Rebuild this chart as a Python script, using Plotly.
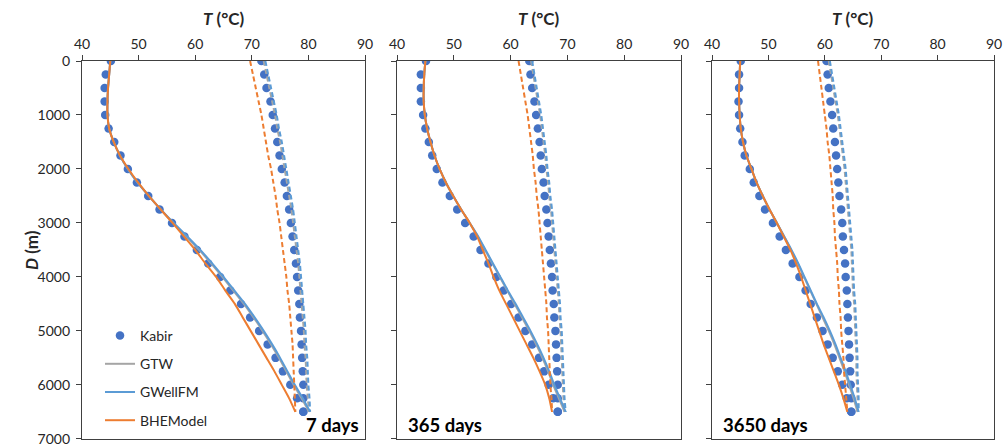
import plotly.graph_objects as go

# Depth along the borehole (m)
depth_m = [0, 250, 500, 750, 1000, 1250, 1500, 1750, 2000, 2250, 2500, 2750, 3000, 3250,
           3500, 3750, 4000, 4250, 4500, 4750, 5000, 5250, 5500, 5750, 6000, 6250, 6500]

# ---- 7 days : fluid temperature (°C), inlet (down-going) and outlet (up-going) ----
kabir_in_7 = [45.1, 44.2, 44.0, 44.0, 44.1, 44.7, 45.7, 46.8, 48.1, 49.7, 51.7, 53.7, 55.9, 58.1,
              60.3, 62.3, 64.4, 66.2, 68.1, 69.7, 71.3, 72.8, 74.2, 75.5, 76.8, 78.0, 79.1]
kabir_out_7 = [71.7, 72.2, 72.6, 73.3, 73.7, 74.1, 74.5, 74.9, 75.3, 75.8, 76.2, 76.6, 76.9, 77.2,
               77.5, 77.8, 78.0, 78.2, 78.4, 78.5, 78.7, 78.8, 78.9, 79.0, 79.1, 79.1, 79.1]
gtw_in_7 = [45.0, 44.8, 44.6, 44.5, 44.5, 44.8, 45.6, 46.7, 48.1, 49.8, 51.8, 53.9, 56.1, 58.4,
            60.7, 62.8, 64.8, 66.7, 68.6, 70.3, 71.9, 73.4, 74.8, 76.1, 77.4, 78.8, 80.1]
gtw_out_7 = [72.1, 72.6, 73.1, 73.6, 74.1, 74.5, 75.0, 75.4, 75.8, 76.2, 76.6, 77.0, 77.3, 77.6,
             77.9, 78.2, 78.4, 78.6, 78.8, 79.0, 79.2, 79.3, 79.5, 79.6, 79.7, 79.9, 80.1]
gwell_in_7 = [45.0, 44.8, 44.6, 44.5, 44.5, 44.8, 45.6, 46.7, 48.1, 49.8, 51.8, 53.9, 56.2, 58.6,
              60.9, 63.0, 65.0, 66.9, 68.8, 70.5, 72.1, 73.6, 75.0, 76.3, 77.6, 79.0, 80.3]
gwell_out_7 = [72.4, 72.9, 73.4, 73.9, 74.4, 74.8, 75.3, 75.7, 76.1, 76.5, 76.9, 77.3, 77.6, 77.9,
               78.2, 78.5, 78.7, 78.9, 79.1, 79.3, 79.5, 79.6, 79.8, 79.9, 80.0, 80.2, 80.3]
bhe_in_7 = [45.0, 44.8, 44.6, 44.5, 44.5, 44.8, 45.6, 46.7, 48.2, 49.9, 51.8, 53.9, 56.0, 58.0,
            60.0, 61.8, 63.7, 65.3, 67.0, 68.4, 69.8, 71.2, 72.6, 74.0, 75.3, 76.6, 77.7]
bhe_out_7 = [69.7, 70.2, 70.7, 71.2, 71.7, 72.1, 72.5, 72.9, 73.4, 73.8, 74.2, 74.5, 74.9, 75.2,
             75.5, 75.8, 76.1, 76.3, 76.6, 76.8, 77.0, 77.2, 77.3, 77.4, 77.5, 77.6, 77.7]

# ---- 365 days ----
kabir_in_365 = [45.1, 44.2, 44.2, 44.2, 44.6, 45.0, 45.6, 46.2, 47.0, 48.0, 49.3, 50.6, 52.0, 53.5,
                54.7, 56.1, 57.5, 58.8, 60.1, 61.4, 62.6, 63.8, 65.0, 65.9, 66.7, 67.5, 68.3]
kabir_out_365 = [63.3, 63.5, 63.8, 64.2, 64.5, 64.8, 65.1, 65.3, 65.5, 65.8, 66.0, 66.3, 66.5, 66.7,
                 66.9, 67.1, 67.3, 67.4, 67.6, 67.7, 67.9, 68.0, 68.1, 68.2, 68.3, 68.3, 68.3]
gtw_in_365 = [45.0, 44.8, 44.7, 44.7, 44.9, 45.3, 45.9, 46.6, 47.5, 48.6, 49.9, 51.3, 52.8, 54.2,
              55.5, 56.8, 58.1, 59.4, 60.7, 62.0, 63.3, 64.5, 65.6, 66.6, 67.5, 68.5, 69.5]
gtw_out_365 = [63.6, 64.0, 64.4, 64.8, 65.2, 65.5, 65.8, 66.1, 66.3, 66.6, 66.8, 67.1, 67.3, 67.5,
               67.7, 67.9, 68.1, 68.3, 68.5, 68.6, 68.8, 68.9, 69.0, 69.1, 69.2, 69.3, 69.5]
gwell_in_365 = [45.0, 44.8, 44.7, 44.7, 44.9, 45.3, 45.9, 46.6, 47.5, 48.6, 49.9, 51.3, 52.8, 54.3,
                55.6, 56.9, 58.2, 59.5, 60.9, 62.2, 63.5, 64.7, 65.8, 66.8, 67.7, 68.7, 69.7]
gwell_out_365 = [63.8, 64.2, 64.6, 65.0, 65.4, 65.7, 66.0, 66.3, 66.5, 66.8, 67.0, 67.3, 67.5, 67.7,
                 67.9, 68.1, 68.3, 68.5, 68.7, 68.8, 69.0, 69.1, 69.2, 69.3, 69.4, 69.5, 69.7]
bhe_in_365 = [45.0, 44.8, 44.7, 44.7, 44.9, 45.3, 45.9, 46.6, 47.5, 48.6, 49.9, 51.3, 52.8, 54.1,
              55.1, 56.1, 57.0, 58.0, 59.2, 60.4, 61.6, 62.8, 64.0, 65.1, 66.1, 66.8, 67.3]
bhe_out_365 = [61.4, 61.8, 62.2, 62.6, 63.0, 63.3, 63.6, 63.9, 64.1, 64.4, 64.6, 64.9, 65.1, 65.3,
               65.5, 65.7, 65.9, 66.1, 66.3, 66.4, 66.6, 66.7, 66.8, 66.9, 67.0, 67.2, 67.3]

# ---- 3650 days ----
kabir_in_3650 = [45.1, 44.8, 44.8, 44.7, 44.8, 45.0, 45.4, 45.8, 46.7, 47.4, 48.4, 49.4, 50.8, 52.0,
                 53.1, 54.3, 55.5, 56.6, 57.5, 58.6, 59.6, 60.5, 61.4, 62.3, 63.1, 63.9, 64.7]
kabir_out_3650 = [60.3, 60.5, 60.7, 61.0, 61.3, 61.5, 61.8, 62.0, 62.2, 62.4, 62.6, 62.9, 63.1, 63.2,
                  63.4, 63.6, 63.7, 63.9, 64.0, 64.1, 64.2, 64.3, 64.4, 64.5, 64.6, 64.7, 64.7]
gtw_in_3650 = [45.0, 44.9, 44.8, 44.8, 44.9, 45.1, 45.5, 46.1, 47.0, 47.9, 49.0, 50.2, 51.5, 52.8,
               54.0, 55.2, 56.3, 57.4, 58.5, 59.6, 60.7, 61.7, 62.6, 63.5, 64.3, 65.1, 65.8]
gtw_out_3650 = [60.7, 61.1, 61.5, 61.9, 62.3, 62.6, 62.9, 63.2, 63.5, 63.7, 63.9, 64.1, 64.3, 64.5,
                64.7, 64.8, 64.9, 65.0, 65.2, 65.3, 65.4, 65.5, 65.6, 65.6, 65.7, 65.8, 65.8]
gwell_in_3650 = [45.0, 44.9, 44.8, 44.8, 44.9, 45.1, 45.5, 46.1, 47.0, 47.9, 49.0, 50.2, 51.5, 52.8,
                 54.1, 55.3, 56.4, 57.5, 58.6, 59.8, 60.9, 61.9, 62.8, 63.7, 64.5, 65.3, 66.0]
gwell_out_3650 = [60.9, 61.3, 61.7, 62.1, 62.5, 62.8, 63.1, 63.4, 63.7, 63.9, 64.1, 64.3, 64.5, 64.7,
                  64.9, 65.0, 65.1, 65.2, 65.4, 65.5, 65.6, 65.7, 65.8, 65.8, 65.9, 66.0, 66.0]
bhe_in_3650 = [45.0, 44.9, 44.8, 44.8, 44.9, 45.1, 45.5, 46.1, 47.0, 47.9, 49.0, 50.2, 51.5, 52.7,
               53.9, 54.9, 55.8, 56.6, 57.4, 58.2, 59.0, 59.8, 60.7, 61.6, 62.5, 63.3, 64.0]
bhe_out_3650 = [58.8, 59.1, 59.4, 59.7, 60.0, 60.3, 60.5, 60.8, 61.0, 61.2, 61.4, 61.5, 61.7, 61.8,
                62.0, 62.2, 62.3, 62.5, 62.6, 62.8, 62.9, 63.1, 63.3, 63.4, 63.6, 63.8, 64.0]

panel_labels = ["7 days", "365 days", "3650 days"]
x_ticks = [40, 50, 60, 70, 80, 90]
y_ticks = [0, 1000, 2000, 3000, 4000, 5000, 6000, 7000]

panels = [
    dict(kabir=(kabir_in_7, kabir_out_7), gtw=(gtw_in_7, gtw_out_7),
         gwell=(gwell_in_7, gwell_out_7), bhe=(bhe_in_7, bhe_out_7)),
    dict(kabir=(kabir_in_365, kabir_out_365), gtw=(gtw_in_365, gtw_out_365),
         gwell=(gwell_in_365, gwell_out_365), bhe=(bhe_in_365, bhe_out_365)),
    dict(kabir=(kabir_in_3650, kabir_out_3650), gtw=(gtw_in_3650, gtw_out_3650),
         gwell=(gwell_in_3650, gwell_out_3650), bhe=(bhe_in_3650, bhe_out_3650)),
]

C_KABIR = "#4472C4"
C_GTW = "#A5A5A5"
C_GWELL = "#5B9BD5"
C_BHE = "#ED7D31"
FONT = "Lato"
TXT = "#262626"
AXC = "#404040"

W, H = 1005, 446
x_dom = [(82 / W, 365 / W), (397 / W, 681 / W), (712 / W, 994 / W)]
y_dom = ((H - 439) / H, (H - 61) / H)

fig = go.Figure()

for i, p in enumerate(panels):
    sfx = "" if i == 0 else str(i + 1)
    xa, ya = "x" + sfx, "y" + sfx
    first = i == 0
    # Kabir solution as markers
    for k, vals in enumerate(p["kabir"]):
        fig.add_trace(go.Scatter(
            x=vals, y=depth_m, xaxis=xa, yaxis=ya, mode="markers",
            marker=dict(color=C_KABIR, size=8.5, line=dict(width=0)),
            name="Kabir", legendgroup="kabir", showlegend=first and k == 0))
    # Model curves: solid = inlet, dashed = outlet
    for key, color, name in (("gtw", C_GTW, "GTW"), ("gwell", C_GWELL, "GWellFM"),
                             ("bhe", C_BHE, "BHEModel")):
        vin, vout = p[key]
        fig.add_trace(go.Scatter(
            x=vin, y=depth_m, xaxis=xa, yaxis=ya, mode="lines",
            line=dict(color=color, width=2, shape="spline", smoothing=0.6),
            name=name, legendgroup=key, showlegend=first))
        fig.add_trace(go.Scatter(
            x=vout, y=depth_m, xaxis=xa, yaxis=ya, mode="lines",
            line=dict(color=color, width=2, dash="5px,3px", shape="spline", smoothing=0.6),
            name=name, legendgroup=key, showlegend=False))

    fig.layout["xaxis" + sfx] = dict(
        domain=list(x_dom[i]), anchor=ya, side="top", range=[40, 90],
        tickvals=x_ticks, ticks="outside", ticklen=5, tickcolor=AXC, tickwidth=1,
        showline=True, linecolor=AXC, linewidth=1.3, mirror=True, showgrid=False,
        zeroline=False, tickfont=dict(family=FONT, size=14, color=TXT), automargin=False)
    fig.layout["yaxis" + sfx] = dict(
        domain=list(y_dom), anchor=xa, range=[7003, 0], tickvals=y_ticks,
        ticks="outside", ticklen=5, tickcolor=AXC, tickwidth=1,
        showline=True, linecolor=AXC, linewidth=1.3, mirror=True, showgrid=False,
        zeroline=False, showticklabels=first, ticklabelstandoff=3,
        ticklabeloverflow="allow",
        tickfont=dict(family=FONT, size=14, color=TXT), automargin=False)

    # axis title above each panel
    fig.add_annotation(
        text="<b><i>T</i> (°C)</b>", xref="paper", yref="paper",
        x=(x_dom[i][0] + x_dom[i][1]) / 2, y=(H - 18) / H, xanchor="center", yanchor="middle",
        showarrow=False, font=dict(family=FONT, size=17, color=TXT))

# time labels inside the panels
fig.add_annotation(text="<b>" + panel_labels[0] + "</b>", xref="paper", yref="paper",
                   x=361 / W, y=(H - 425) / H, xanchor="right", yanchor="middle",
                   showarrow=False, font=dict(family=FONT, size=18.5, color="#000000"))
fig.add_annotation(text="<b>" + panel_labels[1] + "</b>", xref="paper", yref="paper",
                   x=406 / W, y=(H - 425) / H, xanchor="left", yanchor="middle",
                   showarrow=False, font=dict(family=FONT, size=18.5, color="#000000"))
fig.add_annotation(text="<b>" + panel_labels[2] + "</b>", xref="paper", yref="paper",
                   x=721 / W, y=(H - 425) / H, xanchor="left", yanchor="middle",
                   showarrow=False, font=dict(family=FONT, size=18.5, color="#000000"))

# depth axis title
fig.add_annotation(text="<b><i>D</i> (m)</b>", xref="paper", yref="paper",
                   x=31 / W, y=(H - 250) / H, xanchor="center", yanchor="middle",
                   textangle=-90, showarrow=False, font=dict(family=FONT, size=17, color=TXT))

fig.update_layout(
    width=W, height=H, margin=dict(l=0, r=0, t=0, b=0),
    paper_bgcolor="white", plot_bgcolor="white",
    legend=dict(x=100 / W, y=(H - 320) / H, xanchor="left", yanchor="top",
                bgcolor="rgba(0,0,0,0)", tracegroupgap=7, itemwidth=30,
                font=dict(family=FONT, size=14, color=TXT)),
    showlegend=True,
)

fig.write_html("out.html")
